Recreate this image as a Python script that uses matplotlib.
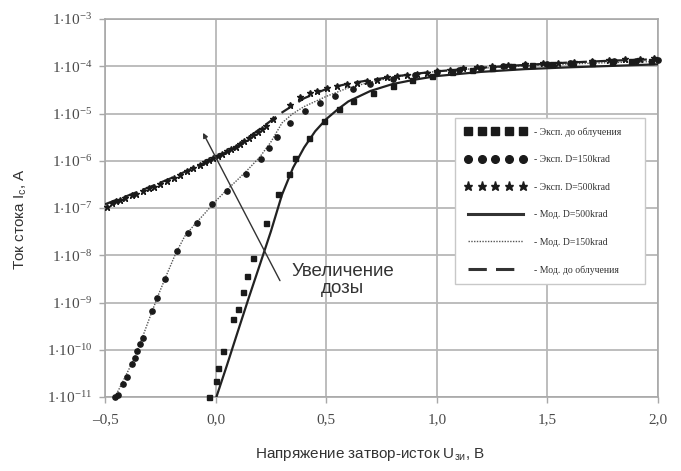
import matplotlib
matplotlib.use("Agg")
import matplotlib.pyplot as plt
from matplotlib.lines import Line2D

# ---------------- data ----------------
# Model curves (lines)
mod_before_x = [0.0, 0.05, 0.10, 0.15, 0.20, 0.25, 0.30, 0.35, 0.40, 0.45, 0.50, 0.55, 0.60,
                0.70, 0.80, 0.90, 1.0, 1.2, 1.4, 1.6, 1.8, 2.0]
mod_before_y = [8.9e-12, 4.5e-11, 2.4e-10, 1.26e-9, 6.3e-9, 3.2e-8, 1.9e-7, 7.1e-7, 1.9e-6, 4.2e-6,
                7.6e-6, 1.2e-5, 1.8e-5, 3.0e-5, 4.2e-5, 5.2e-5, 6.2e-5, 7.6e-5, 8.7e-5, 9.5e-5,
                1.02e-4, 1.1e-4]

mod_150_x = [-0.46, -0.42, -0.38, -0.34, -0.30, -0.26, -0.22, -0.18, -0.14, -0.10, -0.05, 0.0,
             0.05, 0.10, 0.15, 0.20, 0.25, 0.30, 0.35, 0.40, 0.5, 0.6, 0.7, 0.8, 0.9, 1.0,
             1.2, 1.4, 1.6, 1.8, 2.0]
mod_150_y = [8.9e-12, 2.1e-11, 5.0e-11, 1.4e-10, 4.5e-10, 1.4e-9, 4.0e-9, 1.1e-8, 2.5e-8, 4.2e-8,
             7.6e-8, 1.4e-7, 2.4e-7, 4.0e-7, 6.8e-7, 1.2e-6, 2.5e-6, 6.3e-6, 1.0e-5, 1.4e-5,
             2.3e-5, 3.5e-5, 4.6e-5, 5.8e-5, 6.8e-5, 7.8e-5, 9.1e-5, 1.02e-4, 1.12e-4, 1.2e-4,
             1.26e-4]

mod_500_x = [-0.5, -0.4, -0.3, -0.2, -0.1, 0.0, 0.1, 0.2, 0.3, 0.4, 0.5, 0.6, 0.7, 0.8, 0.9,
             1.0, 1.2, 1.4, 1.6, 1.8, 2.0]
mod_500_y = [1.2e-7, 1.8e-7, 2.75e-7, 4.3e-7, 7.1e-7, 1.15e-6, 2.1e-6, 4.7e-6, 1.05e-5, 2.1e-5,
             3.3e-5, 4.3e-5, 5.1e-5, 6.0e-5, 6.9e-5, 7.8e-5, 9.3e-5, 1.07e-4, 1.2e-4, 1.32e-4,
             1.41e-4]

# Experimental points
exp_before_x = [-0.03, 0.00, 0.01, 0.035, 0.08, 0.10, 0.125, 0.14, 0.17, 0.23, 0.28, 0.33, 0.36,
                0.42, 0.49, 0.56, 0.62, 0.71, 0.80, 0.89, 0.98, 1.07, 1.16, 1.25, 1.34, 1.43,
                1.52, 1.61, 1.70, 1.79, 1.88, 1.97]
exp_before_y = [1.0e-11, 2.2e-11, 4.1e-11, 9.3e-11, 4.5e-10, 7.2e-10, 1.7e-9, 3.6e-9, 8.7e-9,
                4.8e-8, 2.0e-7, 5.2e-7, 1.15e-6, 3.0e-6, 6.9e-6, 1.26e-5, 1.8e-5, 2.7e-5, 3.8e-5,
                5.0e-5, 6.3e-5, 7.4e-5, 8.3e-5, 9.1e-5, 1.0e-4, 1.07e-4, 1.12e-4, 1.17e-4,
                1.2e-4, 1.26e-4, 1.29e-4, 1.32e-4]

exp_150_x = [-0.455, -0.44, -0.417, -0.402, -0.379, -0.364, -0.357, -0.342, -0.327, -0.289,
             -0.266, -0.229, -0.176, -0.123, -0.085, -0.018, 0.05, 0.137, 0.205, 0.242, 0.278,
             0.336, 0.404, 0.47, 0.54, 0.62, 0.70, 0.80, 0.90, 1.0, 1.1, 1.2, 1.3, 1.4, 1.5,
             1.6, 1.7, 1.8, 1.9, 2.0]
exp_150_y = [1.0e-11, 1.1e-11, 1.9e-11, 2.6e-11, 4.9e-11, 6.8e-11, 9.3e-11, 1.3e-10, 1.8e-10,
             6.6e-10, 1.26e-9, 3.1e-9, 1.23e-8, 3.0e-8, 4.9e-8, 1.2e-7, 2.3e-7, 5.2e-7, 1.1e-6,
             1.9e-6, 3.2e-6, 6.3e-6, 1.12e-5, 1.66e-5, 2.4e-5, 3.3e-5, 4.3e-5, 5.5e-5, 6.6e-5,
             7.6e-5, 8.5e-5, 9.3e-5, 1.0e-4, 1.07e-4, 1.12e-4, 1.17e-4, 1.23e-4, 1.29e-4,
             1.32e-4, 1.35e-4]

exp_500_x = [-0.49, -0.47, -0.45, -0.43, -0.41, -0.38, -0.36, -0.33, -0.30, -0.28, -0.25, -0.22,
             -0.19, -0.16, -0.13, -0.10, -0.07, -0.05, -0.03, -0.01, 0.01, 0.03, 0.05, 0.07,
             0.09, 0.11, 0.13, 0.15, 0.17, 0.19, 0.21, 0.23, 0.26, 0.336, 0.382, 0.427, 0.457,
             0.502, 0.547, 0.592, 0.638, 0.683, 0.728, 0.773, 0.818, 0.864, 0.909, 0.954, 1.0,
             1.06, 1.12, 1.18, 1.25, 1.32, 1.40, 1.48, 1.55, 1.62, 1.70, 1.78, 1.85, 1.92, 1.98]
exp_500_y = [1.05e-7, 1.26e-7, 1.41e-7, 1.48e-7, 1.66e-7, 1.9e-7, 2.0e-7, 2.24e-7, 2.63e-7,
             2.82e-7, 3.3e-7, 3.8e-7, 4.4e-7, 5.0e-7, 6.0e-7, 7.1e-7, 8.3e-7, 9.3e-7, 1.02e-6,
             1.12e-6, 1.26e-6, 1.41e-6, 1.58e-6, 1.78e-6, 2.0e-6, 2.3e-6, 2.6e-6, 3.0e-6,
             3.5e-6, 4.0e-6, 4.7e-6, 5.4e-6, 7.6e-6, 1.55e-5, 2.2e-5, 2.75e-5, 3.0e-5, 3.55e-5,
             3.8e-5, 4.2e-5, 4.5e-5, 4.9e-5, 5.2e-5, 5.8e-5, 6.2e-5, 6.5e-5, 6.9e-5, 7.2e-5,
             7.9e-5, 8.5e-5, 9.1e-5, 9.5e-5, 1.0e-4, 1.07e-4, 1.12e-4, 1.17e-4, 1.2e-4, 1.26e-4,
             1.32e-4, 1.35e-4, 1.41e-4, 1.45e-4, 1.48e-4]

x_ticks = [-0.5, 0.0, 0.5, 1.0, 1.5, 2.0]
x_tick_labels = ['\u20130,5', '0,0', '0,5', '1,0', '1,5', '2,0']
y_ticks = [1e-11, 1e-10, 1e-9, 1e-8, 1e-7, 1e-6, 1e-5, 1e-4, 1e-3]
y_exponents = [-11, -10, -9, -8, -7, -6, -5, -4, -3]

legend_labels = ['- Эксп. до облучения', '- Эксп. D=150krad', '- Эксп. D=500krad',
                 '- Мод. D=500krad', '- Мод. D=150krad', '- Мод. до облучения']

# ---------------- style ----------------
plt.rcParams['mathtext.fontset'] = 'custom'
plt.rcParams['mathtext.rm'] = 'Liberation Serif'
plt.rcParams['mathtext.it'] = 'Liberation Serif:italic'

tick_col = '#4a4a4a'
grid_col = '#b8b8b8'

fig = plt.figure(figsize=(6.81, 4.71), dpi=100)
ax = fig.add_axes([105 / 681, 1 - 397 / 471, 553 / 681, 378 / 471])
ax.set_yscale('log')
ax.set_xlim(-0.5, 2.0)
ax.set_ylim(1e-11, 1e-3)

ax.grid(True, which='major', color=grid_col, lw=1.3)
ax.minorticks_off()
for s in ax.spines.values():
    s.set_color('#a8a8a8')
    s.set_linewidth(1.2)

# Model lines
ax.plot(mod_before_x, mod_before_y, color='#222222', lw=1.6, ls='-', zorder=3)
ax.plot(mod_150_x, mod_150_y, color='#555555', lw=1.0, ls=(0, (1, 1)), zorder=3)
ax.plot(mod_500_x, mod_500_y, color='#222222', lw=1.6, ls=(0, (6, 3)), zorder=3)

# Experimental points
ax.plot(exp_before_x, exp_before_y, ls='none', marker='s', ms=3.6, color='#1a1a1a', zorder=4,
        clip_on=False)
ax.plot(exp_150_x, exp_150_y, ls='none', marker='o', ms=3.8, color='#1a1a1a', zorder=4,
        clip_on=False)
ax.plot(exp_500_x, exp_500_y, ls='none', marker='*', ms=5.0, color='#1a1a1a', zorder=4,
        clip_on=False)

# Ticks
ax.set_xticks(x_ticks)
ax.set_xticklabels(x_tick_labels, family='Liberation Serif', fontsize=11, color=tick_col)
ax.set_yticks(y_ticks)
ax.set_yticklabels([r'$\mathrm{1{\cdot}10^{%d}}$' % e for e in y_exponents], fontsize=11,
                   color=tick_col)
ax.tick_params(axis='both', direction='out', length=4, color='#a8a8a8', width=1.0, pad=5)
ax.tick_params(axis='x', pad=8)

# Axis labels
ax.set_xlabel(r'Напряжение затвор-исток U$_{\mathregular{зи}}$, В', family='Liberation Sans',
              fontsize=11, color='#333333')
ax.xaxis.set_label_coords(0.479, -0.13)
ax.set_ylabel(r'Ток стока I$_{\mathregular{c}}$, А', family='Liberation Sans', fontsize=11,
              color='#333333')
ax.yaxis.set_label_coords(-0.137, 0.47)

# Arrow "Увеличение дозы"
ax.annotate('', xy=(-0.057, 3.9e-6), xytext=(0.291, 2.9e-9),
            arrowprops=dict(arrowstyle='-|>', color='#333333', lw=1.0, mutation_scale=7,
                            shrinkA=0, shrinkB=0), zorder=5)
ax.text(0.575, 3.0e-9, 'Увеличение\nдозы', ha='center', va='center', family='Liberation Sans',
        fontsize=13.5, color='#333333', linespacing=1.0)

# Legend
handles = [
    Line2D([], [], ls='none', marker='s', ms=5.5, color='#1a1a1a'),
    Line2D([], [], ls='none', marker='o', ms=5.5, color='#1a1a1a'),
    Line2D([], [], ls='none', marker='*', ms=6.5, color='#1a1a1a'),
    Line2D([], [], ls='-', lw=2.2, color='#333333'),
    Line2D([], [], ls=(0, (1, 1)), lw=1.0, color='#555555'),
    Line2D([], [], ls=(0, (6, 3)), lw=2.2, color='#333333'),
]
leg = ax.legend(handles, legend_labels, loc='upper left',
                bbox_to_anchor=(0.625, 0.752, 0.36, 0.0), mode='expand',
                prop={'family': 'Liberation Serif', 'size': 7}, numpoints=5,
                handlelength=6.2, handletextpad=0.9, labelspacing=1.9, borderpad=1.0,
                fancybox=False, framealpha=1.0, edgecolor='#c8c8c8')
leg.get_frame().set_linewidth(1.0)
for t in leg.get_texts():
    t.set_color('#333333')

fig.savefig('out.png', dpi=100)
